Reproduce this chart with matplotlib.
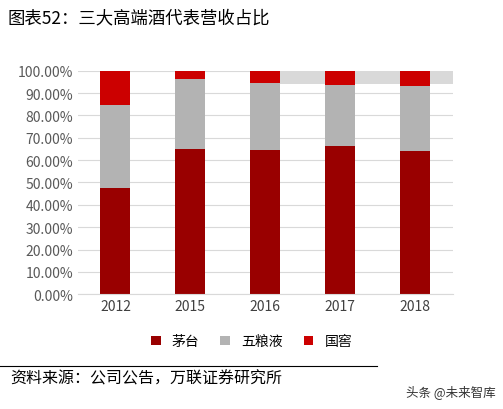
import matplotlib.pyplot as plt
from matplotlib.patches import Rectangle
import numpy as np

plt.rcParams['font.family'] = ['Noto Sans CJK SC', 'DejaVu Sans']

years = ['2012', '2015', '2016', '2017', '2018']
maotai = [47.5, 65.0, 64.5, 66.5, 64.0]
wuliangye = [37.0, 31.5, 30.0, 27.0, 29.0]
guojiao = [15.5, 3.5, 5.5, 6.5, 7.0]

fig = plt.figure(figsize=(5.03, 4.10), dpi=100)
ax = fig.add_axes([0.155, 0.28, 0.745, 0.545])

x = np.arange(len(years))
w = 0.4
ax.add_patch(Rectangle((2 + w / 2, 94), 4.5 - (2 + w / 2), 6, color='#d9d9d9', zorder=1, lw=0))
b1 = ax.bar(x, maotai, w, color='#990000', zorder=2)
b2 = ax.bar(x, wuliangye, w, bottom=maotai, color='#b3b3b3', zorder=2)
bottom2 = [a + b for a, b in zip(maotai, wuliangye)]
b3 = ax.bar(x, guojiao, w, bottom=bottom2, color='#cc0000', zorder=2)

ax.set_xlim(-0.5, 4.5)
ax.set_ylim(0, 100)
ax.set_yticks(np.arange(0, 101, 10))
ax.set_yticklabels(['%.2f%%' % v for v in np.arange(0, 101, 10)], color='#595959', fontsize=10)
ax.set_xticks(x)
ax.set_xticklabels(years, color='#404040', fontsize=10)
ax.yaxis.grid(True, color='#d9d9d9', lw=0.8, zorder=0)
ax.tick_params(length=0)
for s in ['top', 'right', 'left']:
    ax.spines[s].set_visible(False)
ax.spines['bottom'].set_color('#d9d9d9')

fig.legend([b1, b2, b3], ['茅台', '五粮液', '国窖'], loc='center', bbox_to_anchor=(0.5, 0.165),
           ncol=3, frameon=False, fontsize=10, handlelength=0.7, handleheight=0.7, columnspacing=1.5)

fig.text(0.015, 0.955, '图表52：三大高端酒代表营收占比', fontsize=12.5, va='center')
fig.text(0.02, 0.075, '资料来源：公司公告，万联证券研究所', fontsize=11.5, style='italic', va='center')
fig.text(0.985, 0.045, '头条 @未来智库', fontsize=9, color='#333333', ha='right', va='center')
fig.add_artist(plt.Line2D([0, 0.75], [0.105, 0.105], color='black', lw=0.8))

fig.savefig('out.png', dpi=100)
